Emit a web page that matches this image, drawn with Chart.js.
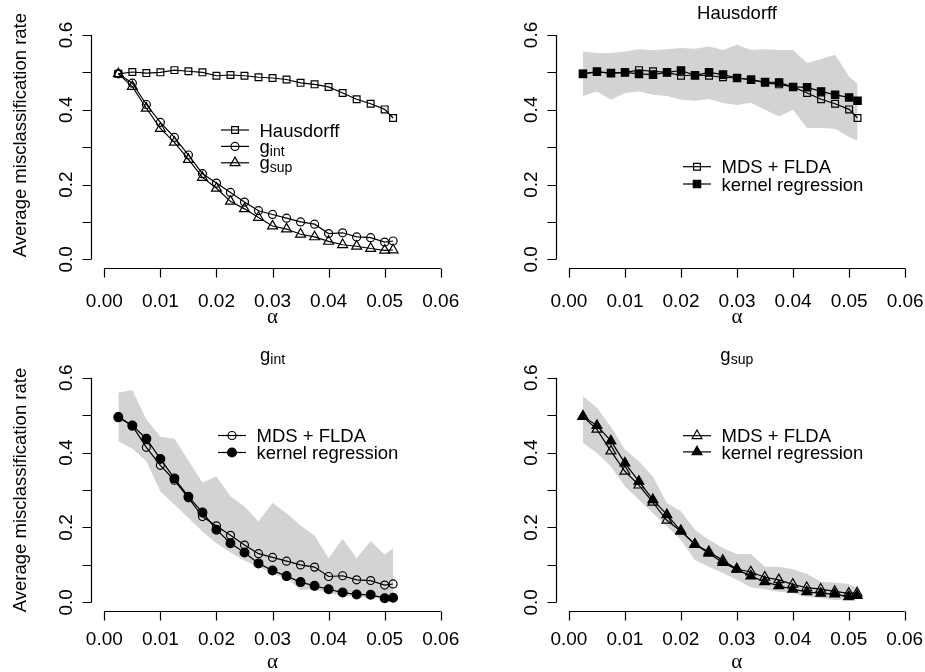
<!DOCTYPE html>
<html>
<head>
<meta charset="utf-8">
<script src="https://cdn.jsdelivr.net/npm/chart.js@4.4.1/dist/chart.umd.min.js"></script>
<style>
html, body { margin: 0; padding: 0; background: #fff; }
#wrap { position: relative; width: 925px; height: 672px; overflow: hidden; }
canvas { position: absolute; }
</style>
</head>
<body>
<div id="wrap">
  <canvas id="p1" width="462" height="336" style="left:0;top:0"></canvas>
  <canvas id="p2" width="463" height="336" style="left:462px;top:0"></canvas>
  <canvas id="p3" width="462" height="336" style="left:0;top:336px"></canvas>
  <canvas id="p4" width="463" height="336" style="left:462px;top:336px"></canvas>
</div>
<script>
// alpha grid (x values)
const alphas = [0.0025, 0.005, 0.0075, 0.01, 0.0125, 0.015, 0.0175, 0.02, 0.0225, 0.025,
                0.0275, 0.03, 0.0325, 0.035, 0.0375, 0.04, 0.0425, 0.045, 0.0475, 0.05, 0.0515];

// Hausdorff
const hausdorffMds    = [0.496, 0.501, 0.498, 0.500, 0.506, 0.503, 0.500, 0.491, 0.493, 0.491, 0.487, 0.485, 0.481, 0.472, 0.468, 0.461, 0.445, 0.428, 0.416, 0.401, 0.378];
const hausdorffKernel = [0.496, 0.502, 0.498, 0.500, 0.496, 0.494, 0.500, 0.505, 0.492, 0.500, 0.494, 0.485, 0.480, 0.474, 0.473, 0.461, 0.460, 0.449, 0.440, 0.433, 0.424];
const hausdorffUpper  = [0.556, 0.552, 0.552, 0.556, 0.562, 0.559, 0.562, 0.565, 0.563, 0.569, 0.560, 0.574, 0.560, 0.562, 0.560, 0.560, 0.525, 0.536, 0.547, 0.489, 0.469];
const hausdorffLower  = [0.437, 0.449, 0.427, 0.445, 0.449, 0.440, 0.437, 0.427, 0.424, 0.429, 0.418, 0.413, 0.419, 0.400, 0.382, 0.400, 0.351, 0.351, 0.349, 0.327, 0.317];

// g_int
const gIntMds    = [0.496, 0.471, 0.414, 0.366, 0.326, 0.279, 0.229, 0.204, 0.179, 0.153, 0.130, 0.120, 0.110, 0.100, 0.094, 0.069, 0.071, 0.060, 0.058, 0.046, 0.049];
const gIntKernel = [0.494, 0.472, 0.437, 0.383, 0.331, 0.282, 0.240, 0.194, 0.158, 0.133, 0.104, 0.085, 0.070, 0.054, 0.044, 0.035, 0.026, 0.021, 0.020, 0.011, 0.012];
const gIntUpper  = [0.560, 0.567, 0.488, 0.442, 0.437, 0.379, 0.320, 0.336, 0.283, 0.256, 0.216, 0.265, 0.238, 0.205, 0.178, 0.118, 0.170, 0.118, 0.164, 0.127, 0.145];
const gIntLower  = [0.430, 0.410, 0.377, 0.296, 0.261, 0.225, 0.189, 0.158, 0.133, 0.111, 0.095, 0.076, 0.064, 0.033, 0.035, 0.024, 0.018, 0.015, 0.011, 0.011, 0.011];

// g_sup
const gSupMds    = [0.496, 0.462, 0.404, 0.350, 0.313, 0.267, 0.219, 0.190, 0.155, 0.135, 0.112, 0.089, 0.081, 0.067, 0.060, 0.048, 0.039, 0.035, 0.029, 0.024, 0.025];
const gSupKernel = [0.497, 0.472, 0.431, 0.372, 0.323, 0.274, 0.234, 0.191, 0.155, 0.131, 0.106, 0.088, 0.070, 0.055, 0.044, 0.035, 0.028, 0.024, 0.022, 0.015, 0.018];
const gSupUpper  = [0.551, 0.520, 0.469, 0.408, 0.377, 0.336, 0.265, 0.243, 0.194, 0.167, 0.145, 0.129, 0.129, 0.095, 0.095, 0.088, 0.076, 0.055, 0.053, 0.049, 0.040];
const gSupLower  = [0.426, 0.399, 0.363, 0.310, 0.274, 0.238, 0.203, 0.167, 0.113, 0.095, 0.078, 0.060, 0.040, 0.035, 0.028, 0.024, 0.015, 0.011, 0.006, 0.006, 0.008];

// axes
const xTicks = [0, 0.01, 0.02, 0.03, 0.04, 0.05, 0.06];
const xTickLabels = ['0.00', '0.01', '0.02', '0.03', '0.04', '0.05', '0.06'];
const yTicks = [0, 0.1, 0.2, 0.3, 0.4, 0.5, 0.6];
const yTickLabels = ['0.0', '', '0.2', '', '0.4', '', '0.6'];

const SANS = '"Liberation Sans", Arial, Helvetica, sans-serif';
const TICK = 9;
const LW = 1.2;

function pts(vals) {
    return alphas.map((a, i) => ({ x: a, y: vals[i] }));
}

function series(vals, style, filled, r) {
    return {
        data: pts(vals),
        borderColor: '#000',
        borderWidth: LW,
        pointStyle: style,
        pointRadius: r,
        pointHoverRadius: r,
        pointBorderColor: '#000',
        pointBorderWidth: LW,
        pointBackgroundColor: filled ? '#000' : 'rgba(0,0,0,0)',
        fill: false,
        tension: 0,
        order: 0
    };
}

function band(upper, lower) {
    return [{
        data: pts(upper),
        borderWidth: 0,
        borderColor: 'rgba(0,0,0,0)',
        backgroundColor: '#d3d3d3',
        pointRadius: 0,
        fill: '+1',
        tension: 0,
        order: 5
    }, {
        data: pts(lower),
        borderWidth: 0,
        borderColor: 'rgba(0,0,0,0)',
        pointRadius: 0,
        fill: false,
        tension: 0,
        order: 6
    }];
}

function drawMarker(ctx, style, filled, x, y, r) {
    ctx.beginPath();
    if (style === 'rect') {
        const s = Math.SQRT1_2 * r;
        ctx.rect(x - s, y - s, 2 * s, 2 * s);
    } else if (style === 'circle') {
        ctx.arc(x, y, r, 0, Math.PI * 2);
    } else {
        for (let k = 0; k < 3; k++) {
            const rad = k * 2 * Math.PI / 3;
            const px = x + Math.sin(rad) * r, py = y - Math.cos(rad) * r;
            if (k === 0) ctx.moveTo(px, py); else ctx.lineTo(px, py);
        }
        ctx.closePath();
    }
    if (filled) ctx.fill();
    ctx.stroke();
}

// text with optional subscript
function subText(ctx, main, sub, x, y, size, align) {
    ctx.font = size + 'px ' + SANS;
    const w1 = ctx.measureText(main).width;
    let w2 = 0;
    const subSize = Math.round(size * 0.78);
    if (sub) {
        ctx.font = subSize + 'px ' + SANS;
        w2 = ctx.measureText(sub).width;
    }
    let x0 = align === 'center' ? x - (w1 + w2) / 2 : x;
    ctx.textAlign = 'left';
    ctx.textBaseline = 'alphabetic';
    ctx.font = size + 'px ' + SANS;
    ctx.fillText(main, x0, y);
    if (sub) {
        ctx.font = subSize + 'px ' + SANS;
        ctx.fillText(sub, x0 + w1, y + 3);
    }
}

const rAxes = {
    id: 'rAxes',
    afterDraw(chart, args, o) {
        const { ctx, chartArea: a, scales: { x, y } } = chart;
        ctx.save();
        ctx.strokeStyle = '#000';
        ctx.fillStyle = '#000';
        ctx.lineWidth = LW;

        // x axis
        const yb = Math.round(a.bottom) + 0.5;
        ctx.beginPath();
        ctx.moveTo(x.getPixelForValue(xTicks[0]), yb);
        ctx.lineTo(x.getPixelForValue(xTicks[xTicks.length - 1]), yb);
        xTicks.forEach(v => {
            const px = Math.round(x.getPixelForValue(v)) + 0.5;
            ctx.moveTo(px, yb);
            ctx.lineTo(px, yb + TICK);
        });
        ctx.stroke();
        ctx.font = '19px ' + SANS;
        ctx.textAlign = 'center';
        ctx.textBaseline = 'alphabetic';
        xTicks.forEach((v, i) => ctx.fillText(xTickLabels[i], x.getPixelForValue(v), yb + o.xLabelGap));
        ctx.font = '21px "Liberation Serif", "DejaVu Serif", serif';
        ctx.fillText('\u03b1', (a.left + a.right) / 2, yb + o.alphaGap);

        // y axis
        const xl = Math.round(a.left) + 0.5;
        ctx.beginPath();
        ctx.moveTo(xl, y.getPixelForValue(yTicks[0]));
        ctx.lineTo(xl, y.getPixelForValue(yTicks[yTicks.length - 1]));
        yTicks.forEach(v => {
            const py = Math.round(y.getPixelForValue(v)) + 0.5;
            ctx.moveTo(xl, py);
            ctx.lineTo(xl - TICK, py);
        });
        ctx.stroke();
        ctx.font = '19px ' + SANS;
        yTicks.forEach((v, i) => {
            if (!yTickLabels[i]) return;
            ctx.save();
            ctx.translate(a.left - 19, y.getPixelForValue(v));
            ctx.rotate(-Math.PI / 2);
            ctx.textAlign = 'center';
            ctx.fillText(yTickLabels[i], 0, 0);
            ctx.restore();
        });
        if (o.yTitle) {
            ctx.save();
            ctx.translate(26, (a.top + a.bottom) / 2 + o.yTitleShift);
            ctx.rotate(-Math.PI / 2);
            ctx.font = '18.5px ' + SANS;
            ctx.textAlign = 'center';
            ctx.fillText(o.yTitle, 0, 0);
            ctx.restore();
        }

        // main title
        if (o.title) {
            subText(ctx, o.title[0], o.title[1], (a.left + a.right) / 2, a.top - 7.5, 18.5, 'center');
        }

        // legend
        o.legend.forEach((e, i) => {
            const ly = o.legendY + i * o.legendStep;
            ctx.beginPath();
            ctx.moveTo(o.legendX - 14, ly);
            ctx.lineTo(o.legendX + 14, ly);
            ctx.stroke();
            ctx.fillStyle = '#000';
            drawMarker(ctx, e.style, e.filled, o.legendX, ly, e.r);
            subText(ctx, e.text, e.sub, o.legendX + 24.5, ly + 6.6, 18.5, 'left');
        });
        ctx.restore();
    }
};

function makePanel(id, datasets, padding, opts) {
    return new Chart(document.getElementById(id).getContext('2d'), {
        type: 'line',
        data: { datasets: datasets },
        options: {
            responsive: false,
            animation: false,
            devicePixelRatio: 1,
            layout: { padding: padding },
            scales: {
                x: { type: 'linear', min: -0.0024, max: 0.0624, display: false },
                y: { type: 'linear', min: -0.024, max: 0.624, display: false }
            },
            plugins: {
                legend: { display: false },
                tooltip: { enabled: false },
                rAxes: opts
            }
        },
        plugins: [rAxes]
    });
}

const padTL = { left: 90.85, right: 7.8, top: 26, bottom: 67.7 };
const padTR = { left: 93.5, right: 5.8, top: 26, bottom: 67.7 };
const padBL = { left: 90.85, right: 7.8, top: 32.7, bottom: 60.7 };
const padBR = { left: 93.5, right: 5.8, top: 32.7, bottom: 60.7 };

const R_SQ = 4.8, R_SQF = 5.2, R_CI = 4, R_CIF = 4.4, R_TR = 5.7, R_TRF = 5.7;

makePanel('p1', [
    series(hausdorffMds, 'rect', false, R_SQ),
    series(gIntMds, 'circle', false, R_CI),
    series(gSupMds, 'triangle', false, R_TR)
], padTL, {
    xLabelGap: 38.4, alphaGap: 54.7,
    yTitle: 'Average misclassification rate', yTitleShift: -12,
    legendX: 235, legendY: 130, legendStep: 16.4,
    legend: [
        { style: 'rect', filled: false, r: R_SQ, text: 'Hausdorff' },
        { style: 'circle', filled: false, r: R_CI, text: 'g', sub: 'int' },
        { style: 'triangle', filled: false, r: R_TR, text: 'g', sub: 'sup' }
    ]
});

makePanel('p2', [
    series(hausdorffMds, 'rect', false, R_SQ),
    series(hausdorffKernel, 'rect', true, R_SQF),
    ...band(hausdorffUpper, hausdorffLower)
], padTR, {
    xLabelGap: 38.4, alphaGap: 54.7,
    title: ['Hausdorff'],
    legendX: 235, legendY: 166.7, legendStep: 17.3,
    legend: [
        { style: 'rect', filled: false, r: R_SQ, text: 'MDS + FLDA' },
        { style: 'rect', filled: true, r: R_SQF, text: 'kernel regression' }
    ]
});

makePanel('p3', [
    series(gIntMds, 'circle', false, R_CI),
    series(gIntKernel, 'circle', true, R_CIF),
    ...band(gIntUpper, gIntLower)
], padBL, {
    xLabelGap: 33.3, alphaGap: 56.6,
    yTitle: 'Average misclassification rate', yTitleShift: 0,
    title: ['g', 'int'],
    legendX: 232, legendY: 99.5, legendStep: 17,
    legend: [
        { style: 'circle', filled: false, r: R_CI, text: 'MDS + FLDA' },
        { style: 'circle', filled: true, r: R_CIF, text: 'kernel regression' }
    ]
});

makePanel('p4', [
    series(gSupMds, 'triangle', false, R_TR),
    series(gSupKernel, 'triangle', true, R_TRF),
    ...band(gSupUpper, gSupLower)
], padBR, {
    xLabelGap: 33.3, alphaGap: 56.6,
    title: ['g', 'sup'],
    legendX: 235, legendY: 99.7, legendStep: 16.2,
    legend: [
        { style: 'triangle', filled: false, r: R_TR, text: 'MDS + FLDA' },
        { style: 'triangle', filled: true, r: R_TRF, text: 'kernel regression' }
    ]
});
</script>
</body>
</html>
